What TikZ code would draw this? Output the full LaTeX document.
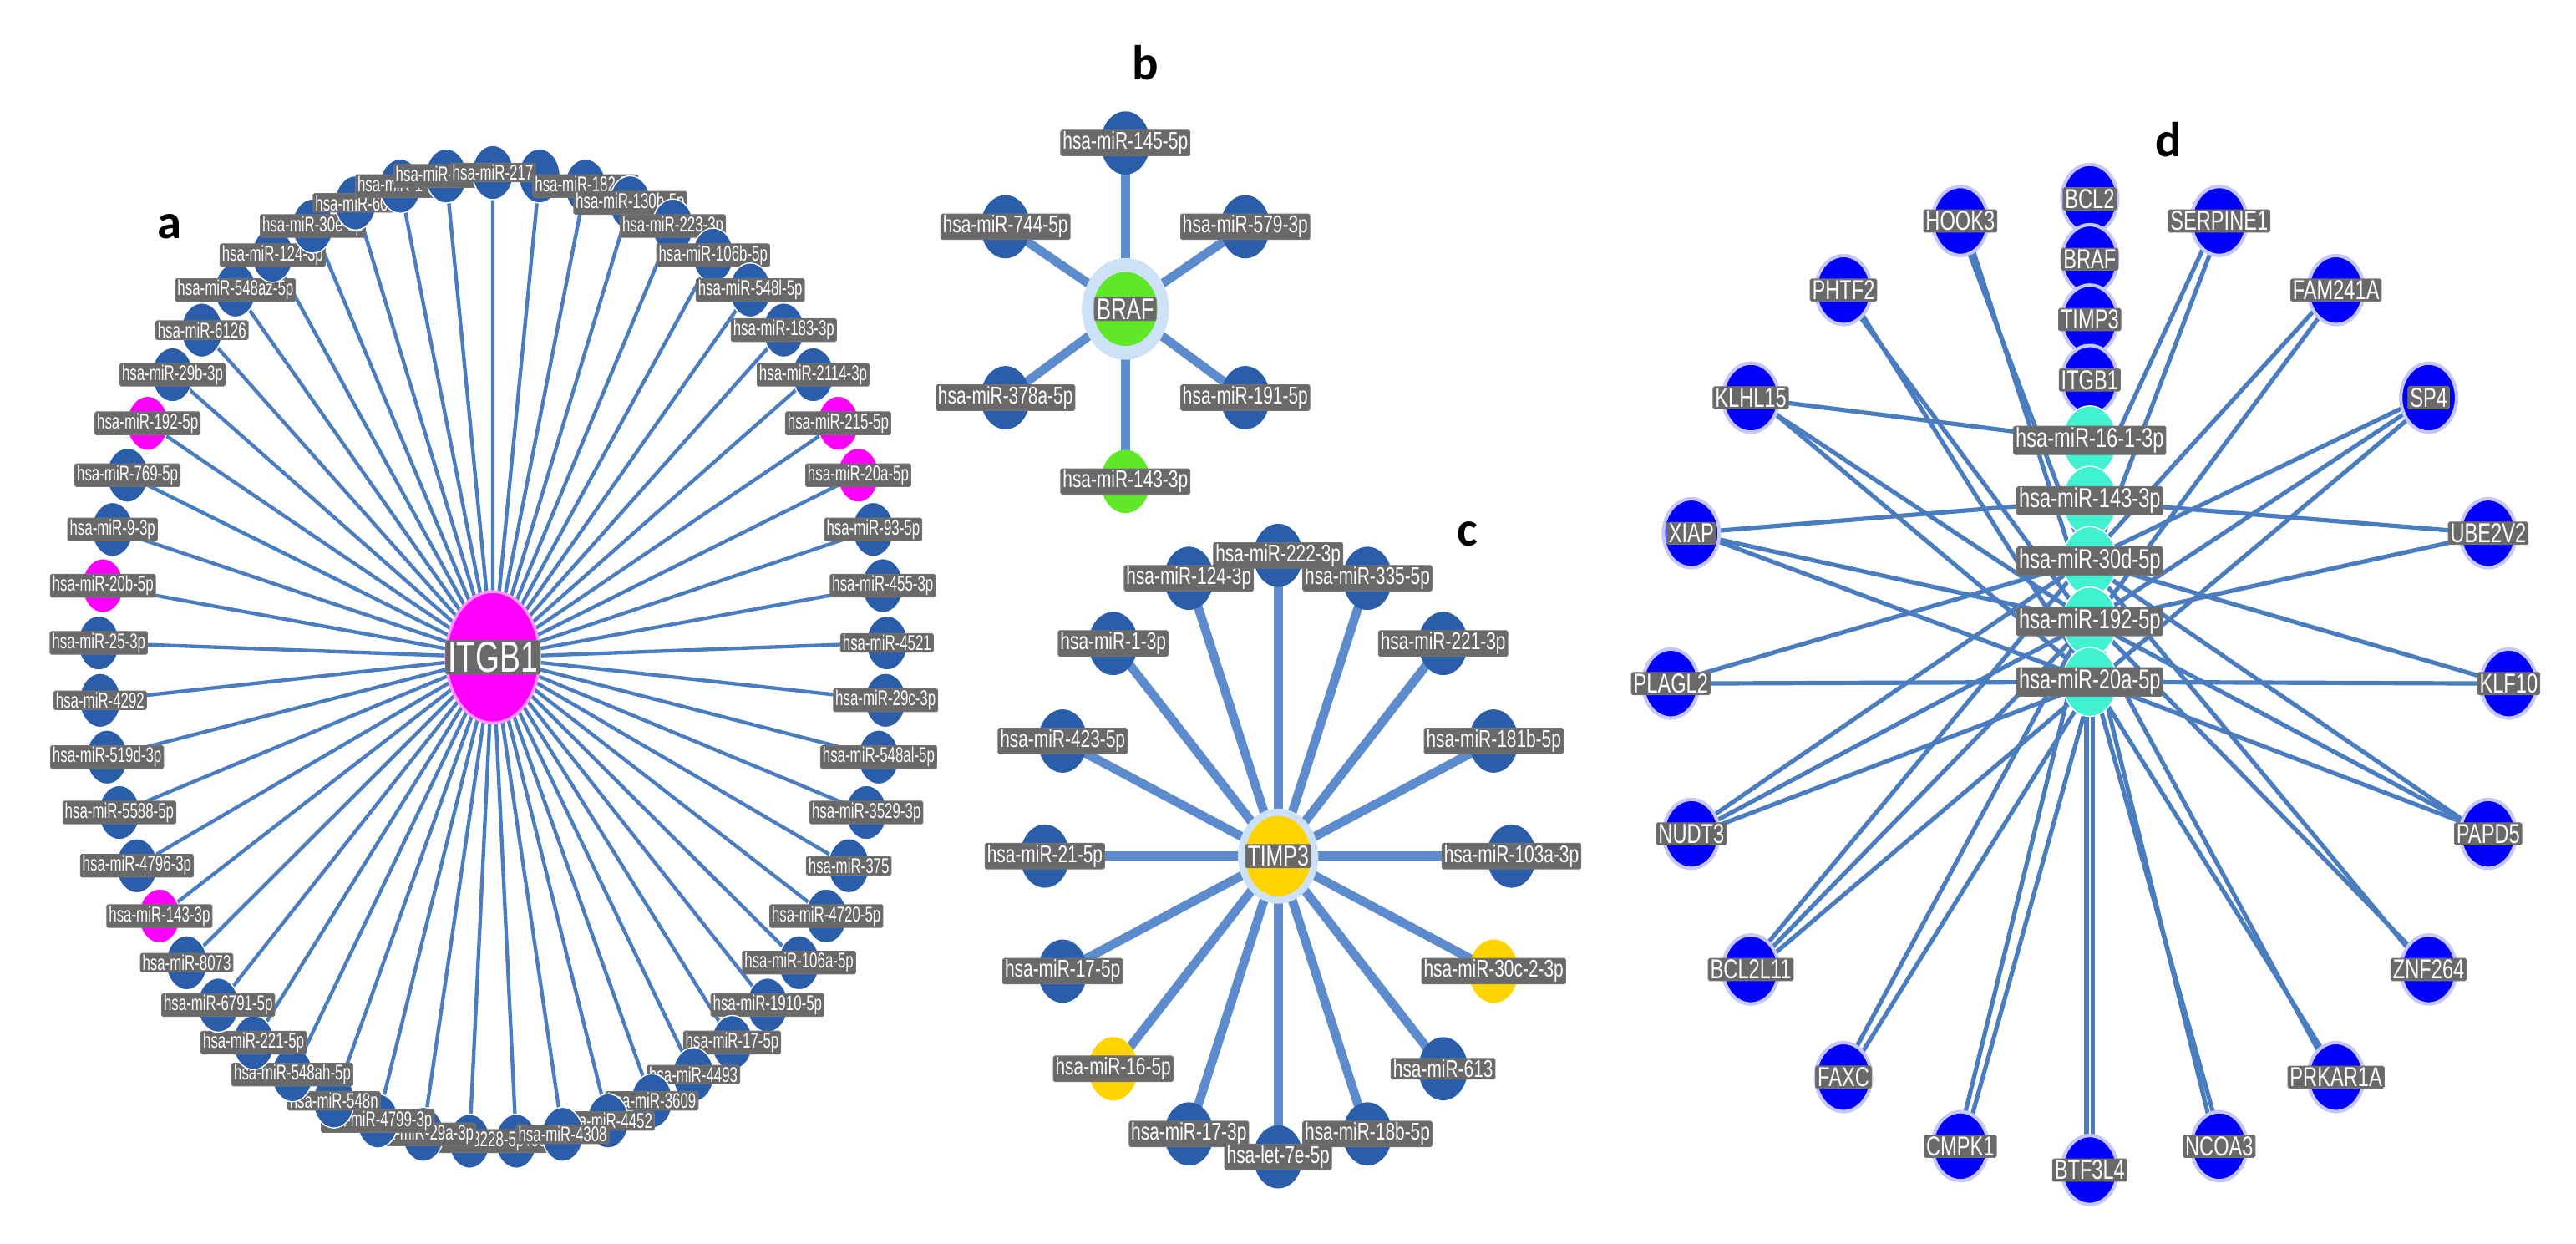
\documentclass[tikz,border=0pt]{standalone}
\usepackage{fontspec}
\setmainfont{Liberation Sans}
\newfontfamily\lblfont[FakeStretch=0.72]{Liberation Sans}
\newfontfamily\lblfonta[FakeStretch=0.66]{Liberation Sans}
\newfontfamily\letterfont{Carlito}
\usetikzlibrary{shapes.geometric}
\definecolor{mirblue}{RGB}{43,94,170}
\definecolor{edgeblue}{RGB}{74,124,192}
\definecolor{edgelight}{RGB}{92,140,206}
\definecolor{magnode}{RGB}{255,0,255}
\definecolor{greennode}{RGB}{95,232,40}
\definecolor{yellownode}{RGB}{255,212,0}
\definecolor{halo}{RGB}{205,226,246}
\definecolor{cyannode}{RGB}{64,242,208}
\definecolor{genblue}{RGB}{0,0,250}
\definecolor{lblgray}{RGB}{105,105,105}
\pgfdeclarelayer{bg}
\pgfsetlayers{bg,main}
\tikzset{
  lbl/.style={fill=lblgray, draw=black!55, line width=0.3pt, text=white, inner xsep=0.7pt, inner ysep=0.5pt, rounded corners=0.5pt, font=\lblfonta\fontsize{7.4}{8}\selectfont},
  lblbc/.style={lbl, font=\lblfont\fontsize{8.4}{9}\selectfont},
  lbld/.style={lbl, font=\lblfont\fontsize{9.5}{10}\selectfont},
  nodea/.style={ellipse, inner sep=0pt, minimum width=0.5cm, minimum height=0.66cm, draw=white, line width=0.4pt, fill=mirblue},
  nodebc/.style={ellipse, inner sep=0pt, minimum width=0.6cm, minimum height=0.77cm, fill=mirblue},
  gened/.style={ellipse, inner sep=0pt, minimum width=0.68cm, minimum height=0.84cm, fill=genblue, draw=blue!22, line width=1.2pt},
  mird/.style={ellipse, inner sep=0pt, minimum width=0.66cm, minimum height=0.84cm, fill=cyannode, draw=white, line width=0.4pt},
  hub/.style={ellipse, inner sep=0pt},
  edgea/.style={draw=edgeblue, line width=1.25pt},
  edgebc/.style={draw=edgelight, line width=3.1pt},
  edged/.style={draw=edgeblue, line width=1.5pt},
  panel/.style={font=\letterfont\bfseries\fontsize{17}{20}\selectfont, inner sep=0pt},
}
\begin{document}
\begin{tikzpicture}[x=0.02cm, y=-0.02cm]
\begin{pgfonlayer}{bg}
\fill[white] (0,0) rectangle (1568,757);
\end{pgfonlayer}
\useasboundingbox (0,0) rectangle (1568,757);

% ---------------- panel a ----------------
\node[panel] (la) at (103,138) {a};
\node[hub, fill=magnode, draw=magnode!40, line width=1pt, minimum width=1.14cm, minimum height=1.6cm] (itgb) at (300,400) {};
\node[lbl, font=\lblfont\fontsize{15}{16}\selectfont] (itgbl) at (itgb) {ITGB1};
\pgfmathsetmacro{\angh}{(3-15)*360/53-1.7}
\node[nodea] (a3) at ({300+240*cos(\angh)},{400+295*sin(\angh)}) {};
\foreach \k/\t/\c in {
 28/hsa-miR-466-5p/mirblue, 29/hsa-miR-8228-5p/mirblue, 30/hsa-miR-29a-3p/mirblue,
 31/hsa-miR-4799-3p/mirblue, 32/hsa-miR-548n/mirblue, 33/hsa-miR-548ah-5p/mirblue,
 34/hsa-miR-221-5p/mirblue, 35/hsa-miR-6791-5p/mirblue, 36/hsa-miR-8073/mirblue,
 37/hsa-miR-143-3p/magnode, 38/hsa-miR-4796-3p/mirblue, 39/hsa-miR-5588-5p/mirblue,
 40/hsa-miR-519d-3p/mirblue, 41/hsa-miR-4292/mirblue, 42/hsa-miR-25-3p/mirblue,
 43/hsa-miR-20b-5p/magnode, 44/hsa-miR-9-3p/mirblue, 45/hsa-miR-769-5p/mirblue,
 46/hsa-miR-192-5p/magnode, 47/hsa-miR-29b-3p/mirblue, 48/hsa-miR-6126/mirblue,
 49/hsa-miR-548az-5p/mirblue, 50/hsa-miR-124-3p/mirblue, 51/hsa-miR-30e-3p/mirblue,
 52/hsa-miR-608/mirblue, 53/hsa-miR-1-5p/mirblue, 1/hsa-miR-186-5p/mirblue,
 2/hsa-miR-217/mirblue, 4/hsa-miR-182-5p/mirblue, 5/hsa-miR-130b-5p/mirblue,
 6/hsa-miR-223-3p/mirblue, 7/hsa-miR-106b-5p/mirblue, 8/hsa-miR-548l-5p/mirblue,
 9/hsa-miR-183-3p/mirblue, 10/hsa-miR-2114-3p/mirblue, 11/hsa-miR-215-5p/magnode,
 12/hsa-miR-20a-5p/magnode, 13/hsa-miR-93-5p/mirblue, 14/hsa-miR-455-3p/mirblue,
 15/hsa-miR-4521/mirblue, 16/hsa-miR-29c-3p/mirblue, 17/hsa-miR-548al-5p/mirblue,
 18/hsa-miR-3529-3p/mirblue, 19/hsa-miR-375/mirblue, 20/hsa-miR-4720-5p/mirblue,
 21/hsa-miR-106a-5p/mirblue, 22/hsa-miR-1910-5p/mirblue, 23/hsa-miR-17-5p/mirblue,
 24/hsa-miR-4493/mirblue, 25/hsa-miR-3609/mirblue, 26/hsa-miR-4452/mirblue,
 27/hsa-miR-4308/mirblue} {
  \pgfmathsetmacro{\ang}{(\k-15)*360/53-1.7}
  \node[nodea, fill=\c] (a\k) at ({300+240*cos(\ang)},{400+295*sin(\ang)}) {};
  \node[lbl] (a\k l) at (a\k) {\t};
}
\begin{pgfonlayer}{bg}
\foreach \k in {1,...,53} \draw[edgea] (itgb.center) -- (a\k.center);
\end{pgfonlayer}

% ---------------- panel b ----------------
\node[panel] (lb) at (697,38) {b};
\node[hub, fill=halo, minimum width=1.06cm, minimum height=1.24cm] (brafh) at (685,188) {};
\node[hub, fill=greennode, minimum width=0.78cm, minimum height=0.9cm] (braf) at (685,188) {};
\foreach \n/\t/\c/\x/\y in {
 b1/hsa-miR-145-5p/mirblue/685/87, b2/hsa-miR-744-5p/mirblue/612/138,
 b3/hsa-miR-579-3p/mirblue/758/138, b4/hsa-miR-378a-5p/mirblue/612/242,
 b5/hsa-miR-191-5p/mirblue/758/242, b6/hsa-miR-143-3p/greennode/685/293} {
  \node[nodebc, fill=\c] (\n) at (\x,\y) {};
  \node[lblbc] (\n l) at (\n) {\t};
}
\node[lbl, font=\lblfont\fontsize{10.4}{11}\selectfont] (brafl) at (braf) {BRAF};
\begin{pgfonlayer}{bg}
\foreach \n in {b1,b2,b3,b4,b5,b6} \draw[edgebc] (braf.center) -- (\n.center);
\end{pgfonlayer}

% ---------------- panel c ----------------
\node[panel] (lc) at (893,325) {c};
\node[hub, fill=halo, minimum width=0.98cm, minimum height=1.16cm] (timph) at (778,521) {};
\node[hub, fill=yellownode, minimum width=0.8cm, minimum height=0.98cm] (timp) at (778,521) {};
\foreach \k/\c in {0/mirblue,1/mirblue,2/mirblue,3/mirblue,4/mirblue,5/yellownode,6/mirblue,7/mirblue,8/mirblue,9/mirblue,10/yellownode,11/mirblue,12/mirblue,13/mirblue,14/mirblue,15/mirblue} {
  \pgfmathsetmacro{\ang}{-90+22.5*\k}
  \node[nodebc, fill=\c] (c\k) at ({778+142*cos(\ang)},{521+183*sin(\ang)}) {};
}
\foreach \k/\t in {15/hsa-miR-124-3p, 1/hsa-miR-335-5p, 0/hsa-miR-222-3p, 2/hsa-miR-221-3p, 3/hsa-miR-181b-5p, 4/hsa-miR-103a-3p, 5/hsa-miR-30c-2-3p, 6/hsa-miR-613, 7/hsa-miR-18b-5p, 9/hsa-miR-17-3p, 8/hsa-let-7e-5p, 10/hsa-miR-16-5p, 11/hsa-miR-17-5p, 12/hsa-miR-21-5p, 13/hsa-miR-423-5p, 14/hsa-miR-1-3p} {
  \node[lblbc] (c\k l) at (c\k) {\t};
}
\node[lbl, font=\lblfont\fontsize{10}{11}\selectfont] (timpl) at (timp) {TIMP3};
\begin{pgfonlayer}{bg}
\foreach \k in {0,...,15} \draw[edgebc] (timp.center) -- (c\k.center);
\end{pgfonlayer}

% ---------------- panel d ----------------
\node[panel] (ld) at (1320,85) {d};
\foreach \n/\t/\y in {s1/BCL2/121, s2/BRAF/157.75, s3/TIMP3/194.5, s4/ITGB1/231.25} {
  \node[gened] (\n) at (1272,\y) {};
}
\foreach \n/\t/\y in {m1/hsa-miR-16-1-3p/268, m2/hsa-miR-143-3p/304.75, m3/hsa-miR-30d-5p/341.5, m4/hsa-miR-192-5p/378.25, m5/hsa-miR-20a-5p/415} {
  \node[mird] (\n) at (1272,\y) {};
}
\foreach \k/\t in {1/HOOK3, 2/PHTF2, 3/KLHL15, 4/XIAP, 5/PLAGL2, 6/NUDT3, 7/BCL2L11, 8/FAXC, 9/CMPK1, 10/BTF3L4, 11/NCOA3, 12/PRKAR1A, 13/ZNF264, 14/PAPD5, 15/KLF10, 16/UBE2V2, 17/SP4, 18/FAM241A, 19/SERPINE1} {
  \pgfmathsetmacro{\ang}{-90-18*\k}
  \node[gened] (g\k) at ({1272+255*cos(\ang)},{416+296*sin(\ang)}) {};
  \node[lbld] (g\k l) at (g\k) {\t};
}
\foreach \n/\t in {s1/BCL2, s2/BRAF, s3/TIMP3, s4/ITGB1, m1/hsa-miR-16-1-3p, m2/hsa-miR-143-3p, m3/hsa-miR-30d-5p, m4/hsa-miR-192-5p, m5/hsa-miR-20a-5p} {
  \node[lbld] (\n l) at (\n) {\t};
}
\begin{pgfonlayer}{bg}
\foreach \g/\m/\o in {g1/m3/-2, g1/m4/2, g2/m4/-2, g2/m5/2, g3/m1/-3, g3/m4/0, g3/m5/3, g4/m2/-3, g4/m4/0, g4/m5/3,
  g5/m3/-2, g5/m5/2, g6/m3/-3, g6/m4/0, g6/m5/3, g7/m3/-3, g7/m4/0, g7/m5/3, g8/m4/-2, g8/m5/2, g9/m4/-2, g9/m5/2,
  g10/m4/-2, g10/m5/2, g11/m4/-2, g11/m5/2, g12/m4/-2, g12/m5/2, g13/m3/-2, g13/m4/2, g14/m3/-3, g14/m4/0, g14/m5/3,
  g15/m3/-2, g15/m5/2, g16/m2/-2, g16/m4/2, g17/m3/-3, g17/m4/0, g17/m5/3, g18/m3/-2, g18/m4/2, g19/m2/-2, g19/m3/2,
  s1/m1/0, s2/m2/0, s3/m1/0, s4/m2/0, s4/m4/0, s4/m5/0}
  \draw[edged] ([xshift=\o*0.02cm]\g.center) -- ([xshift=\o*0.02cm]\m.center);
\end{pgfonlayer}
\end{tikzpicture}
\end{document}
